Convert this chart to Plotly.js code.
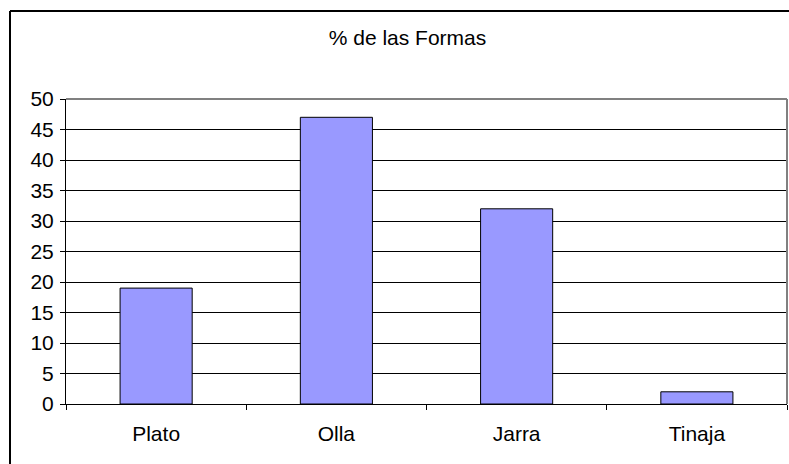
<!DOCTYPE html>
<html>
<head>
<meta charset="utf-8">
<script src="https://cdn.plot.ly/plotly-3.0.1.min.js"></script>
<style>html,body{margin:0;padding:0;background:#fff;}#chart{width:789px;height:464px;}</style>
</head>
<body>
<div id="chart"></div>
<script>
const categories = ["Plato", "Olla", "Jarra", "Tinaja"];
const values = [19, 47, 32, 2];
const yTicks = [0, 5, 10, 15, 20, 25, 30, 35, 40, 45, 50];
const titleText = "% de las Formas";

const font = {family: "Liberation Sans, Arial, sans-serif", size: 21, color: "#000"};

const trace = {
  type: "bar",
  x: categories,
  y: values,
  marker: {color: "#9999FF", line: {color: "#000", width: 1}},
  hoverinfo: "x+y"
};

const layout = {
  width: 789, height: 464,
  margin: {l: 66, r: 2, t: 99, b: 60, pad: 0},
  paper_bgcolor: "#fff", plot_bgcolor: "#fff",
  font: font,
  showlegend: false,
  bargap: 0.6,
  title: {text: titleText, font: font, x: (407.5-66)/721, xanchor: "center", y: 1 - 38/464, yanchor: "middle", xref: "paper"},
  xaxis: {
    type: "category",
    showline: true, linecolor: "#000", linewidth: 1,
    ticks: "outside", ticklen: 5, tickcolor: "#000", tickwidth: 1,
    tickson: "boundaries",
    showgrid: false,
    tickfont: font,
    ticklabelstandoff: 11,
    range: [-0.5, 3.5],
    fixedrange: true
  },
  yaxis: {
    range: [0, 50],
    tickvals: yTicks,
    ticktext: yTicks.map(String),
    showline: true, linecolor: "#000", linewidth: 1,
    ticks: "outside", ticklen: 5, tickcolor: "#000", tickwidth: 1,
    showgrid: true, gridcolor: "#000", gridwidth: 1,
    zeroline: false,
    tickfont: font,
    ticklabelstandoff: 2,
    fixedrange: true
  },
  shapes: [
    {type: "line", xref: "paper", yref: "paper", x0: 0, x1: 1, y0: 1, y1: 1, line: {color: "#808080", width: 2}},
    {type: "line", xref: "paper", yref: "paper", x0: 1, x1: 1, y0: 0, y1: 1, line: {color: "#808080", width: 2}},
    {type: "line", xref: "paper", yref: "paper", x0: (10-66)/721, x1: 1.1, y0: (404-11)/305, y1: (404-11)/305, line: {color: "#000", width: 2}},
    {type: "line", xref: "paper", yref: "paper", x0: (10-66)/721, x1: (10-66)/721, y0: (404-11)/305, y1: -0.3, line: {color: "#000", width: 2}}
  ]
};

Plotly.newPlot("chart", [trace], layout, {displayModeBar: false, staticPlot: true});
</script>
</body>
</html>
